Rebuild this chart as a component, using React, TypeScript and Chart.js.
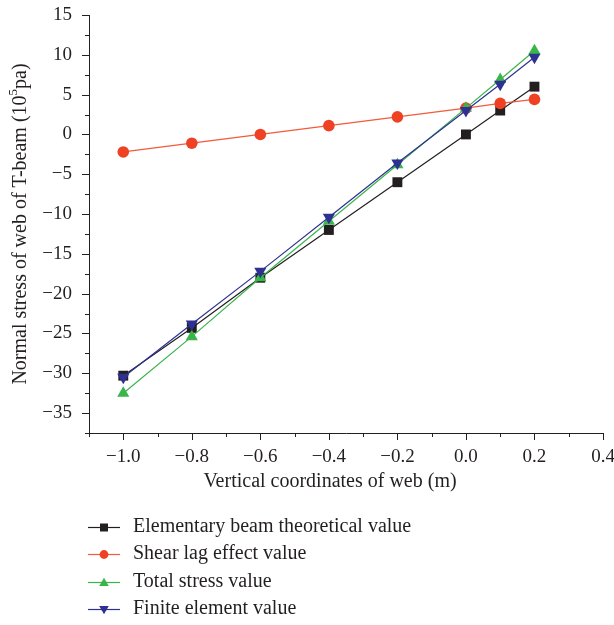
import React, { useEffect, useRef } from "react";
import { Chart, registerables } from "chart.js";

Chart.register(...registerables);

const xValues = [-1.0, -0.8, -0.6, -0.4, -0.2, 0.0, 0.1, 0.2];
const elementary = [-30.3, -24.3, -18.0, -12.0, -6.0, 0.0, 3.0, 6.0];
const shearLag = [-2.2, -1.1, 0.0, 1.1, 2.2, 3.3, 3.9, 4.4];
const totalStress = [-32.5, -25.4, -18.0, -10.9, -3.8, 3.3, 6.9, 10.5];
const finiteElement = [-30.5, -23.8, -17.2, -10.4, -3.6, 3.0, 6.3, 9.7];

const seriesNames = [
  "Elementary beam theoretical value",
  "Shear lag effect value",
  "Total stress value",
  "Finite element value",
];
const xTitle = "Vertical coordinates of web (m)";
const yTitleMain = "Normal stress of web of T-beam (10";
const yTitleSup = "5";
const yTitleEnd = "pa)";

const FONT = "'Liberation Serif', 'Times New Roman', serif";
const INK = "#231f20";
const COLORS = ["#231f20", "#ef4123", "#39b54a", "#2e3192"];
const LINE_COLORS = ["#231f20", "#f15a3a", "#39b54a", "#2e3192"];
const SHAPES = ["square", "circle", "up", "down"];

const fmt = (v: number) => {
  const s = Math.abs(v).toFixed(1);
  return v < -1e-9 ? "\u2212" + s : s;
};

function drawMarker(ctx: CanvasRenderingContext2D, shape: string, x: number, y: number, s: number, color: string) {
  ctx.fillStyle = color;
  ctx.beginPath();
  if (shape === "square") {
    ctx.rect(x - s * 0.5, y - s * 0.5, s, s);
  } else if (shape === "circle") {
    ctx.arc(x, y, s * 0.55, 0, Math.PI * 2);
  } else if (shape === "up") {
    ctx.moveTo(x, y - s * 0.6);
    ctx.lineTo(x + s * 0.6, y + s * 0.45);
    ctx.lineTo(x - s * 0.6, y + s * 0.45);
    ctx.closePath();
  } else {
    ctx.moveTo(x, y + s * 0.6);
    ctx.lineTo(x + s * 0.6, y - s * 0.45);
    ctx.lineTo(x - s * 0.6, y - s * 0.45);
    ctx.closePath();
  }
  ctx.fill();
}

const decorPlugin = {
  id: "decor",
  afterDraw(chart: any) {
    const ctx: CanvasRenderingContext2D = chart.ctx;
    const xs = chart.scales.x;
    const ys = chart.scales.y;
    const { left, bottom } = chart.chartArea;
    ctx.save();
    ctx.strokeStyle = INK;
    ctx.lineWidth = 1;
    ctx.beginPath();
    xs.ticks.forEach((t: any) => {
      const px = Math.round(xs.getPixelForValue(t.value)) + 0.5;
      const major = Math.abs(Math.round(t.value * 10)) % 2 === 0;
      ctx.moveTo(px, bottom);
      ctx.lineTo(px, bottom + (major ? 7 : 4));
    });
    ys.ticks.forEach((t: any) => {
      const py = Math.round(ys.getPixelForValue(t.value)) + 0.5;
      const major = Math.abs(Math.round(t.value / 2.5)) % 2 === 0;
      ctx.moveTo(left, py);
      ctx.lineTo(left - (major ? 7 : 4), py);
    });
    ctx.stroke();

    // axis titles
    ctx.fillStyle = INK;
    ctx.font = "20px " + FONT;
    ctx.textBaseline = "middle";
    ctx.textAlign = "center";
    ctx.fillText(xTitle, 330, 482);

    ctx.save();
    ctx.translate(21, 224);
    ctx.rotate(-Math.PI / 2);
    ctx.font = "20px " + FONT;
    const w1 = ctx.measureText(yTitleMain).width;
    const w3 = ctx.measureText(yTitleEnd).width;
    ctx.font = "13px " + FONT;
    const w2 = ctx.measureText(yTitleSup).width;
    const total = w1 + w2 + w3;
    let cx = -total / 2;
    ctx.textAlign = "left";
    ctx.font = "20px " + FONT;
    ctx.fillText(yTitleMain, cx, 0);
    cx += w1;
    ctx.font = "13px " + FONT;
    ctx.fillText(yTitleSup, cx, -7);
    cx += w2;
    ctx.font = "20px " + FONT;
    ctx.fillText(yTitleEnd, cx, 0);
    ctx.restore();

    // legend
    const rows = [527, 554, 582, 609];
    ctx.textAlign = "left";
    ctx.font = "20px " + FONT;
    seriesNames.forEach((name, i) => {
      const y = rows[i];
      ctx.strokeStyle = LINE_COLORS[i];
      ctx.lineWidth = 1.2;
      ctx.beginPath();
      ctx.moveTo(88, y + 0.5);
      ctx.lineTo(120, y + 0.5);
      ctx.stroke();
      drawMarker(ctx, SHAPES[i], 104, y + 0.5, 8, COLORS[i]);
      ctx.fillStyle = INK;
      ctx.fillText(name, 133, y);
    });
    ctx.restore();
  },
};

export default function App() {
  const ref = useRef<HTMLCanvasElement | null>(null);

  useEffect(() => {
    if (!ref.current) return;
    const mk = (vals: number[]) => xValues.map((x, i) => ({ x, y: vals[i] }));
    const chart = new Chart(ref.current, {
      type: "line",
      data: {
        datasets: [
          {
            label: seriesNames[0],
            data: mk(elementary),
            borderColor: LINE_COLORS[0],
            backgroundColor: COLORS[0],
            borderWidth: 1.2,
            pointStyle: "rect",
            pointRadius: 7,
            pointBorderWidth: 0,
            order: 4,
          },
          {
            label: seriesNames[1],
            data: mk(shearLag),
            borderColor: LINE_COLORS[1],
            backgroundColor: COLORS[1],
            borderWidth: 1.2,
            pointStyle: "circle",
            pointRadius: 5.8,
            pointBorderWidth: 0,
            order: 3,
          },
          {
            label: seriesNames[2],
            data: mk(totalStress),
            borderColor: LINE_COLORS[2],
            backgroundColor: COLORS[2],
            borderWidth: 1.2,
            pointStyle: "triangle",
            pointRadius: 7,
            pointBorderWidth: 0,
            order: 2,
          },
          {
            label: seriesNames[3],
            data: mk(finiteElement),
            borderColor: LINE_COLORS[3],
            backgroundColor: COLORS[3],
            borderWidth: 1.2,
            pointStyle: "triangle",
            pointRotation: 180,
            pointRadius: 7,
            pointBorderWidth: 0,
            order: 1,
          },
        ],
      },
      options: {
        animation: false,
        responsive: false,
        layout: { padding: { top: 15, right: 11, bottom: 132, left: 0 } },
        plugins: { legend: { display: false }, tooltip: { enabled: false } },
        scales: {
          x: {
            type: "linear",
            min: -1.1,
            max: 0.4,
            grid: { display: false, drawTicks: false },
            border: { display: true, color: INK, width: 1 },
            ticks: {
              stepSize: 0.1,
              autoSkip: false,
              maxRotation: 0,
              padding: 13,
              color: INK,
              font: { family: FONT, size: 19 },
              callback: (v: any) => {
                const n = Math.round(Number(v) * 10);
                return n % 2 === 0 ? fmt(n / 10) : "";
              },
            },
            afterFit: (s: any) => {
              s.height = 60;
              s.paddingLeft = 0;
              s.paddingRight = 0;
            },
          },
          y: {
            type: "linear",
            min: -37.5,
            max: 15,
            grid: { display: false, drawTicks: false },
            border: { display: true, color: INK, width: 1 },
            ticks: {
              stepSize: 2.5,
              autoSkip: false,
              padding: 17,
              color: INK,
              font: { family: FONT, size: 19 },
              callback: (v: any) => {
                const n = Math.round(Number(v) / 2.5);
                return n % 2 === 0 ? fmt(n * 2.5).replace(".0", "") : "";
              },
            },
            afterFit: (s: any) => {
              s.width = 89;
              s.paddingTop = 0;
              s.paddingBottom = 0;
            },
          },
        },
      },
      plugins: [decorPlugin],
    } as any);
    return () => chart.destroy();
  }, []);

  return (
    <div style={{ position: "fixed", left: 0, top: 0, width: 614, height: 625, background: "#fff" }}>
      <canvas ref={ref} width={614} height={625} />
    </div>
  );
}
